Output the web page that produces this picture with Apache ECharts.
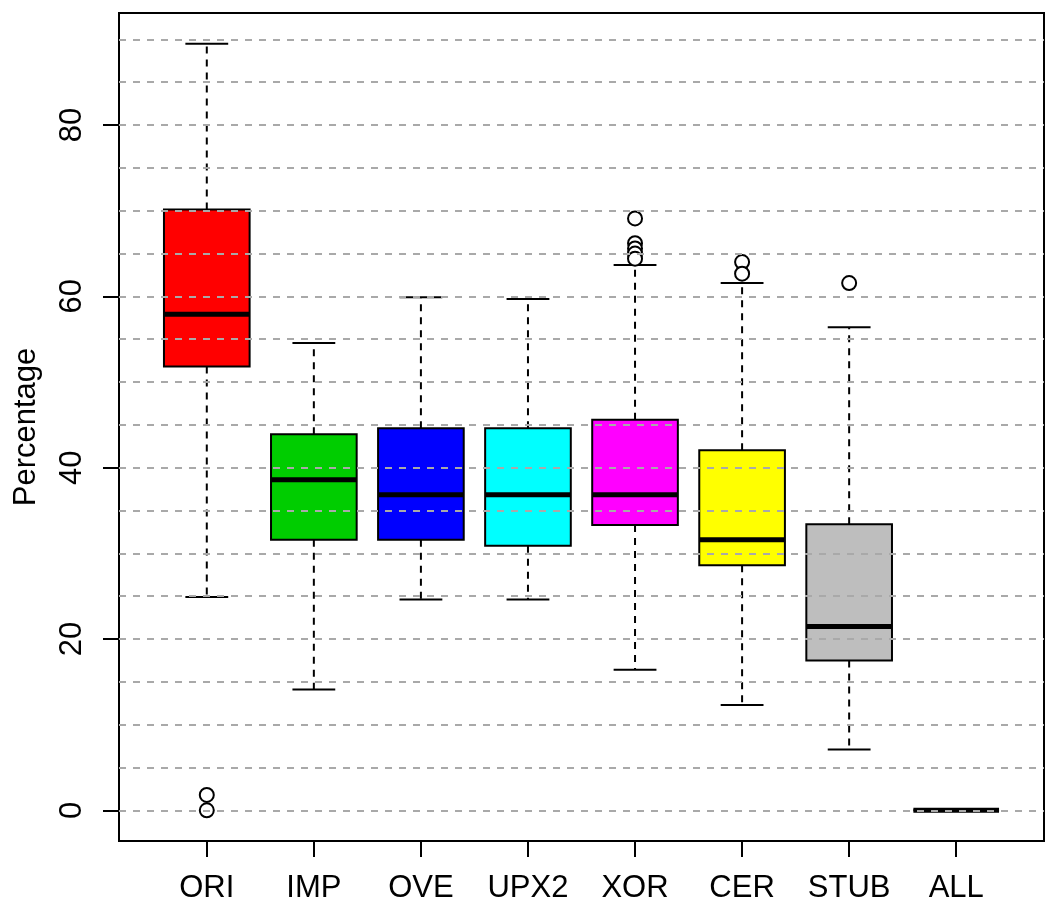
<!DOCTYPE html>
<html>
<head>
<meta charset="utf-8">
<script src="https://cdn.jsdelivr.net/npm/echarts@6/dist/echarts.min.js"></script>
<style>
html,body{margin:0;padding:0;background:#fff;}
#chart{width:1051px;height:903px;}
</style>
</head>
<body>
<div id="chart"></div>
<script>
// ---- data ----
const categories     = ['ORI', 'IMP', 'OVE', 'UPX2', 'XOR', 'CER', 'STUB', 'ALL'];
const lowerWhisker   = [24.9, 14.1, 24.6, 24.6, 16.4, 12.3, 7.1, 0];
const lowerQuartile  = [51.8, 31.6, 31.6, 30.9, 33.3, 28.6, 17.5, 0];
const medians        = [57.9, 38.6, 36.85, 36.85, 36.85, 31.6, 21.45, 0];
const upperQuartile  = [70.15, 43.9, 44.6, 44.6, 45.6, 42.05, 33.4, 0];
const upperWhisker   = [89.5, 54.55, 59.9, 59.7, 63.65, 61.55, 56.4, 0];
const outlierCategory = ['ORI', 'ORI', 'XOR', 'XOR', 'XOR', 'XOR', 'XOR', 'CER', 'CER', 'STUB'];
const outlierValues   = [0, 1.8, 69.1, 66.2, 65.6, 65.0, 64.4, 64.0, 62.65, 61.55];
const yTickLabels = [0, 20, 40, 60, 80];
const gridLevels  = [0, 5, 10, 15, 20, 25, 30, 35, 40, 45, 50, 55, 60, 65, 70, 75, 80, 85, 90];

// ---- styles ----
const boxColors = ['#FF0000', '#00CD00', '#0000FF', '#00FFFF', '#FF00FF', '#FFFF00', '#BEBEBE', '#BEBEBE'];
const FONT = '"Liberation Sans", Arial, Helvetica, sans-serif';
const FS = 31;
const LW = 2;

const positions = categories.map((c, i) => i + 1);
const boxData = categories.map((c, i) => [positions[i], lowerWhisker[i], lowerQuartile[i], medians[i], upperQuartile[i], upperWhisker[i]]);
const outlierData = outlierCategory.map((c, k) => [categories.indexOf(c) + 1, outlierValues[k]]);

const chart = echarts.init(document.getElementById('chart'), null, {renderer: 'canvas'});

function renderBox(params, api) {
  const x = api.value(0);
  const pLo = api.coord([x, api.value(1)]);
  const pQ1 = api.coord([x, api.value(2)]);
  const pMed = api.coord([x, api.value(3)]);
  const pQ3 = api.coord([x, api.value(4)]);
  const pHi = api.coord([x, api.value(5)]);
  const bw = api.size([0.8, 0])[0];
  const cw = bw / 2;
  const cx = pMed[0];
  const dash = {stroke: '#000', lineWidth: LW, lineDash: [7, 6]};
  const solid = {stroke: '#000', lineWidth: LW};
  return {
    type: 'group',
    children: [
      {type: 'line', shape: {x1: cx, y1: pQ3[1], x2: cx, y2: pHi[1]}, style: dash},
      {type: 'line', shape: {x1: cx, y1: pQ1[1], x2: cx, y2: pLo[1]}, style: dash},
      {type: 'line', shape: {x1: cx - cw / 2, y1: pHi[1], x2: cx + cw / 2, y2: pHi[1]}, style: solid},
      {type: 'line', shape: {x1: cx - cw / 2, y1: pLo[1], x2: cx + cw / 2, y2: pLo[1]}, style: solid},
      {type: 'rect', shape: {x: cx - bw / 2, y: pQ3[1], width: bw, height: pQ1[1] - pQ3[1]},
        style: {fill: boxColors[params.dataIndex], stroke: '#000', lineWidth: LW}},
      {type: 'line', shape: {x1: cx - bw / 2, y1: pMed[1], x2: cx + bw / 2, y2: pMed[1]},
        style: {stroke: '#000', lineWidth: 5}}
    ]
  };
}

chart.setOption({
  animation: false,
  backgroundColor: '#fff',
  grid: {
    left: 119, top: 13, width: 925, height: 828,
    show: true, borderColor: '#000', borderWidth: LW, backgroundColor: 'transparent',
    containLabel: false, outerBoundsMode: 'none'
  },
  xAxis: {
    type: 'value', min: 0.18, max: 8.82, position: 'bottom',
    axisLine: {show: false, onZero: false},
    splitLine: {show: false},
    axisTick: {show: true, inside: false, length: 16, customValues: positions, lineStyle: {color: '#000', width: LW}},
    axisLabel: {
      show: true, customValues: positions, margin: 32,
      color: '#000', fontSize: FS, fontFamily: FONT,
      formatter: v => categories[Math.round(v) - 1] || ''
    }
  },
  yAxis: {
    type: 'value', min: -3.58, max: 93.08, position: 'left',
    name: 'Percentage', nameLocation: 'middle', nameRotate: 90, nameGap: 77,
    nameTextStyle: {color: '#000', fontSize: FS, fontFamily: FONT},
    axisLine: {show: false, onZero: false},
    splitLine: {show: false},
    axisTick: {show: true, inside: false, length: 16, customValues: yTickLabels, lineStyle: {color: '#000', width: LW}},
    axisLabel: {
      show: true, customValues: yTickLabels, rotate: 90, margin: 31,
      color: '#000', fontSize: FS, fontFamily: FONT
    }
  },
  series: [
    {
      type: 'custom', name: 'boxes', z: 2,
      renderItem: renderBox,
      encode: {x: 0, y: [1, 2, 3, 4, 5]},
      data: boxData
    },
    {
      type: 'scatter', name: 'outliers', z: 3,
      symbol: 'emptyCircle', symbolSize: 14,
      itemStyle: {color: '#000', borderColor: '#000', borderWidth: LW, opacity: 1},
      data: outlierData
    },
    {
      type: 'line', name: 'grid', z: 5, data: [],
      markLine: {
        silent: true, symbol: ['none', 'none'], animation: false,
        label: {show: false},
        lineStyle: {color: '#A9A9A9', type: [7, 7], width: LW, opacity: 1},
        data: gridLevels.map(v => ({yAxis: v}))
      }
    }
  ]
});
</script>
</body>
</html>
